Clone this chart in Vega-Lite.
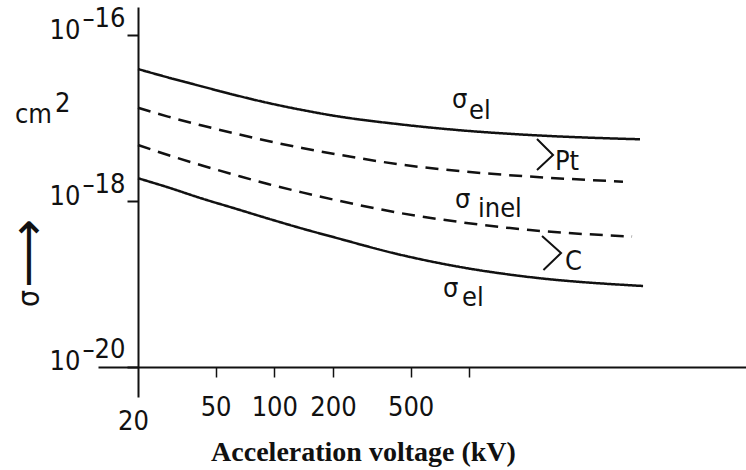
{
  "$schema": "https://vega.github.io/schema/vega-lite/v6.json",
  "width": 648,
  "height": 390,
  "autosize": {"type": "none"},
  "padding": {"left": 98, "top": 7, "right": 0, "bottom": 73},
  "background": "white",
  "config": {"view": {"stroke": null}, "axis": {"grid": false}},
  "datasets": {
    "curves": [
      {"curve": "Pt el", "kind": "elastic", "V": 20, "sigma": 3.89e-17},
      {"curve": "Pt el", "kind": "elastic", "V": 28.5, "sigma": 3.08e-17},
      {"curve": "Pt el", "kind": "elastic", "V": 42.6, "sigma": 2.40e-17},
      {"curve": "Pt el", "kind": "elastic", "V": 62.9, "sigma": 1.89e-17},
      {"curve": "Pt el", "kind": "elastic", "V": 92.8, "sigma": 1.52e-17},
      {"curve": "Pt el", "kind": "elastic", "V": 138.7, "sigma": 1.25e-17},
      {"curve": "Pt el", "kind": "elastic", "V": 204.8, "sigma": 1.06e-17},
      {"curve": "Pt el", "kind": "elastic", "V": 425.9, "sigma": 8.47e-18},
      {"curve": "Pt el", "kind": "elastic", "V": 928, "sigma": 7.07e-18},
      {"curve": "Pt el", "kind": "elastic", "V": 2048, "sigma": 6.24e-18},
      {"curve": "Pt el", "kind": "elastic", "V": 7505, "sigma": 5.54e-18},
      {"curve": "Pt inel", "kind": "inelastic", "V": 20, "sigma": 1.33e-17},
      {"curve": "Pt inel", "kind": "inelastic", "V": 28.5, "sigma": 1.04e-17},
      {"curve": "Pt inel", "kind": "inelastic", "V": 42.6, "sigma": 8.12e-18},
      {"curve": "Pt inel", "kind": "inelastic", "V": 62.9, "sigma": 6.51e-18},
      {"curve": "Pt inel", "kind": "inelastic", "V": 92.8, "sigma": 5.28e-18},
      {"curve": "Pt inel", "kind": "inelastic", "V": 138.7, "sigma": 4.35e-18},
      {"curve": "Pt inel", "kind": "inelastic", "V": 204.8, "sigma": 3.68e-18},
      {"curve": "Pt inel", "kind": "inelastic", "V": 425.9, "sigma": 2.79e-18},
      {"curve": "Pt inel", "kind": "inelastic", "V": 928, "sigma": 2.27e-18},
      {"curve": "Pt inel", "kind": "inelastic", "V": 2048, "sigma": 1.97e-18},
      {"curve": "Pt inel", "kind": "inelastic", "V": 6138, "sigma": 1.71e-18},
      {"curve": "C inel", "kind": "inelastic", "V": 20, "sigma": 4.73e-18},
      {"curve": "C inel", "kind": "inelastic", "V": 28.5, "sigma": 3.58e-18},
      {"curve": "C inel", "kind": "inelastic", "V": 42.6, "sigma": 2.68e-18},
      {"curve": "C inel", "kind": "inelastic", "V": 62.9, "sigma": 2.06e-18},
      {"curve": "C inel", "kind": "inelastic", "V": 92.8, "sigma": 1.60e-18},
      {"curve": "C inel", "kind": "inelastic", "V": 138.7, "sigma": 1.27e-18},
      {"curve": "C inel", "kind": "inelastic", "V": 204.8, "sigma": 1.03e-18},
      {"curve": "C inel", "kind": "inelastic", "V": 425.9, "sigma": 7.27e-19},
      {"curve": "C inel", "kind": "inelastic", "V": 928, "sigma": 5.51e-19},
      {"curve": "C inel", "kind": "inelastic", "V": 2048, "sigma": 4.47e-19},
      {"curve": "C inel", "kind": "inelastic", "V": 6832, "sigma": 3.73e-19},
      {"curve": "C el", "kind": "elastic", "V": 20, "sigma": 1.88e-18},
      {"curve": "C el", "kind": "elastic", "V": 28.5, "sigma": 1.46e-18},
      {"curve": "C el", "kind": "elastic", "V": 42.6, "sigma": 1.07e-18},
      {"curve": "C el", "kind": "elastic", "V": 62.9, "sigma": 8.12e-19},
      {"curve": "C el", "kind": "elastic", "V": 92.8, "sigma": 6.15e-19},
      {"curve": "C el", "kind": "elastic", "V": 138.7, "sigma": 4.66e-19},
      {"curve": "C el", "kind": "elastic", "V": 204.8, "sigma": 3.63e-19},
      {"curve": "C el", "kind": "elastic", "V": 425.9, "sigma": 2.30e-19},
      {"curve": "C el", "kind": "elastic", "V": 928, "sigma": 1.58e-19},
      {"curve": "C el", "kind": "elastic", "V": 2048, "sigma": 1.21e-19},
      {"curve": "C el", "kind": "elastic", "V": 7780, "sigma": 9.46e-20}
    ],
    "brackets": [
      {"bracket": "Pt", "step": 1, "V": 2224, "sigma": 5.58e-18},
      {"bracket": "Pt", "step": 2, "V": 2688, "sigma": 3.58e-18},
      {"bracket": "Pt", "step": 3, "V": 2224, "sigma": 2.36e-18},
      {"bracket": "C", "step": 1, "V": 2360, "sigma": 3.79e-19},
      {"bracket": "C", "step": 2, "V": 2954, "sigma": 2.36e-19},
      {"bracket": "C", "step": 3, "V": 2400, "sigma": 1.475e-19}
    ],
    "notes": [
      {"text": "σ", "V": 815, "sigma": 1.32e-17},
      {"text": "el", "V": 996, "sigma": 9.72e-18},
      {"text": "σ", "V": 844, "sigma": 8.24e-19},
      {"text": "inel", "V": 1108, "sigma": 6.41e-19},
      {"text": "σ", "V": 733, "sigma": 6.97e-20},
      {"text": "el", "V": 917, "sigma": 5.43e-20},
      {"text": "Pt", "V": 2750, "sigma": 2.36e-18},
      {"text": "C", "V": 3096, "sigma": 1.475e-19},
      {"text": "cm", "V": 4.68, "sigma": 8.71e-18},
      {"text": "2", "V": 7.51, "sigma": 1.18e-17},
      {"text": "20", "V": 15.79, "sigma": 1.74e-21}
    ]
  },
  "encoding": {
    "x": {
      "field": "V", "type": "quantitative",
      "scale": {"type": "log", "domain": [12.47, 26240], "nice": false},
      "axis": {
        "offset": -30,
        "values": [50, 100, 200, 500, 1000],
        "labelExpr": "datum.value == 1000 ? '' : format(datum.value, 'd')",
        "labelFont": "DejaVu Sans Condensed, DejaVu Sans",
        "labelFontSize": 27,
        "labelColor": "#111",
        "labelPadding": 17,
        "labelFlush": false,
        "labelOverlap": false,
        "tickSize": 10,
        "tickWidth": 1.5,
        "tickColor": "#111",
        "domainColor": "#111",
        "domainWidth": 2,
        "title": "Acceleration voltage (kV)",
        "titleFont": "Liberation Serif",
        "titleFontWeight": "bold",
        "titleFontSize": 28,
        "titleColor": "#111",
        "titleX": 265,
        "titleY": 93,
        "titleAlign": "center",
        "titleBaseline": "alphabetic"
      }
    }
  },
  "resolve": {"axis": {"y": "independent"}},
  "layer": [
    {
      "data": {"name": "curves"},
      "mark": {"type": "line", "interpolate": "monotone", "strokeWidth": 2.5, "color": "#111"},
      "encoding": {
        "y": {
          "field": "sigma", "type": "quantitative",
          "scale": {"type": "log", "domain": [4.35e-21, 2.175e-16], "nice": false},
          "axis": {
            "orient": "left",
            "offset": -40,
            "values": [1e-16, 1e-18, 1e-20],
            "labelExpr": "'–' + round(-log(datum.value) / LN10)",
            "labelFont": "DejaVu Sans Condensed, DejaVu Sans",
            "labelFontSize": 27,
            "labelColor": "#111",
            "labelPadding": 2,
            "labelOffset": -17,
            "labelBaseline": "middle",
            "labelAlign": "right",
            "labelFlush": false,
            "labelOverlap": false,
            "tickSize": 11,
            "tickWidth": 2,
            "tickColor": "#111",
            "domainColor": "#111",
            "domainWidth": 2,
            "title": "⟶",
            "titleFont": "DejaVu Sans",
            "titleFontWeight": "normal",
            "titleFontSize": 48,
            "titleColor": "#111",
            "titleAngle": 270,
            "titleX": -109,
            "titleY": 246,
            "titleAlign": "center",
            "titleBaseline": "middle"
          }
        },
        "detail": {"field": "curve"},
        "strokeDash": {
          "field": "kind", "type": "nominal",
          "scale": {"domain": ["elastic", "inelastic"], "range": [[1, 0], [13, 8]]},
          "legend": null
        }
      }
    },
    {
      "data": {"name": "notes"},
      "mark": {
        "type": "text", "align": "left", "baseline": "alphabetic",
        "font": "DejaVu Sans Condensed, DejaVu Sans",
        "fontSize": 27, "color": "#111"
      },
      "encoding": {
        "y": {
          "field": "sigma", "type": "quantitative",
          "scale": {"type": "log", "domain": [4.35e-21, 2.175e-16], "nice": false},
          "axis": {
            "orient": "left",
            "offset": -40,
            "values": [1e-16, 1e-18, 1e-20],
            "labelExpr": "'10'",
            "labelFont": "DejaVu Sans Condensed, DejaVu Sans",
            "labelFontSize": 27,
            "labelColor": "#111",
            "ticks": false,
            "domain": false,
            "labelPadding": 58,
            "labelOffset": -5,
            "labelBaseline": "middle",
            "labelAlign": "right",
            "labelFlush": false,
            "labelOverlap": false,
            "title": "σ",
            "titleFont": "DejaVu Sans Condensed, DejaVu Sans",
            "titleFontWeight": "normal",
            "titleFontSize": 30,
            "titleColor": "#111",
            "titleAngle": 270,
            "titleX": -109,
            "titleY": 291,
            "titleAlign": "center",
            "titleBaseline": "middle"
          }
        },
        "text": {"field": "text"}
      }
    },
    {
      "data": {"name": "brackets"},
      "mark": {"type": "line", "strokeWidth": 2, "color": "#111", "strokeJoin": "miter"},
      "encoding": {
        "y": {"field": "sigma", "type": "quantitative", "scale": {"type": "log", "domain": [4.35e-21, 2.175e-16], "nice": false}, "axis": null},
        "detail": {"field": "bracket"},
        "order": {"field": "step"}
      }
    }
  ]
}
